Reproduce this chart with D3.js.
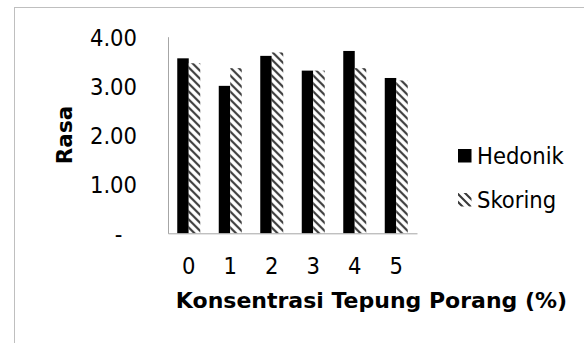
<!DOCTYPE html>
<html>
<head>
<meta charset="utf-8">
<script src="https://cdn.jsdelivr.net/npm/d3@7"></script>
<style>
  html, body { margin: 0; padding: 0; background: #fff; }
  svg { display: block; }
  text { font-family: "DejaVu Sans Condensed", "DejaVu Sans", sans-serif; font-stretch: condensed; fill: #000; }
  text.title { font-family: "DejaVu Sans", sans-serif; font-stretch: normal; font-weight: bold; }
</style>
</head>
<body>
<svg id="chart" width="584" height="343"></svg>
<script>
// Rasa scores per concentration of porang flour
const categories = ["0", "1", "2", "3", "4", "5"];
const hedonik = [3.56, 3.00, 3.61, 3.31, 3.71, 3.16];
const skoring = [3.46, 3.36, 3.68, 3.31, 3.36, 3.11];
const seriesNames = ["Hedonik", "Skoring"];
const yTicks = [0, 1, 2, 3, 4];

const svg = d3.select("#chart");

// outer chart frame
svg.append("rect")
  .attr("x", 14.5).attr("y", 7.5)
  .attr("width", 600).attr("height", 400)
  .attr("fill", "none").attr("stroke", "#bfbfbf").attr("stroke-width", 1);

// diagonal hatch used for the Skoring series
const defs = svg.append("defs");
const pat = defs.append("pattern")
  .attr("id", "hatch")
  .attr("patternUnits", "userSpaceOnUse")
  .attr("width", 8).attr("height", 8);
pat.append("rect").attr("width", 8).attr("height", 8).attr("fill", "#fff");
pat.append("path")
  .attr("d", "M-2,-2 L10,10 M-2,6 L2,10 M6,-2 L10,2")
  .attr("stroke", "#3a3a3a").attr("stroke-width", 2.1);

const plot = { left: 168, right: 417, top: 36.7, bottom: 233.3 };
const fontSize = 23.5;

const x = d3.scaleBand()
  .domain(categories)
  .range([plot.left, plot.right])
  .paddingInner(0.446)
  .paddingOuter(0.223);

const xSub = d3.scaleBand()
  .domain(seriesNames)
  .range([0, x.bandwidth()]);

const y = d3.scaleLinear()
  .domain([0, 4])
  .range([plot.bottom, plot.top]);

const data = categories.map((c, i) => ({ cat: c, Hedonik: hedonik[i], Skoring: skoring[i] }));
const fills = { Hedonik: "#000", Skoring: "url(#hatch)" };

// bars
const groups = svg.append("g").selectAll("g")
  .data(data).join("g")
  .attr("transform", d => `translate(${x(d.cat)},0)`);

groups.selectAll("rect")
  .data(d => seriesNames.map(s => ({ s, v: d[s] })))
  .join("rect")
  .attr("x", d => xSub(d.s))
  .attr("width", xSub.bandwidth())
  .attr("y", d => y(d.v))
  .attr("height", d => y(0) - y(d.v))
  .attr("fill", d => fills[d.s]);

// axes
const yAxis = svg.append("g")
  .attr("transform", `translate(${plot.left},0)`)
  .call(d3.axisLeft(y).tickValues(yTicks).tickSize(0).tickPadding(31)
    .tickFormat(d => d === 0 ? "-" : d3.format(".2f")(d)));
yAxis.select(".domain").attr("stroke", "#a6a6a6");
yAxis.selectAll("text")
  .attr("font-size", fontSize).attr("font-family", null)
  .attr("dy", "0.36em");
yAxis.selectAll(".tick")
  .filter(d => d === 0)
  .select("text")
  .attr("text-anchor", "middle")
  .attr("x", 118.5 - plot.left);

const xAxis = svg.append("g")
  .attr("transform", `translate(0,${plot.bottom})`)
  .call(d3.axisBottom(x).tickSize(0).tickPadding(24));
xAxis.select(".domain").attr("stroke", "#a6a6a6");
xAxis.selectAll("text").attr("font-size", fontSize).attr("font-family", null);

// axis titles
svg.append("text")
  .attr("class", "title")
  .attr("x", 371.5).attr("y", 308)
  .attr("text-anchor", "middle")
  .attr("font-size", 22)
  .text("Konsentrasi Tepung Porang (%)");

svg.append("text")
  .attr("class", "title")
  .attr("transform", "translate(72,135) rotate(-90)")
  .attr("text-anchor", "middle")
  .attr("font-size", 21.5)
  .text("Rasa");

// legend
const legend = svg.append("g");
const legendY = [156, 200];
seriesNames.forEach((s, i) => {
  legend.append("rect")
    .attr("x", 458).attr("y", legendY[i] - 7)
    .attr("width", 13.5).attr("height", 13.5)
    .attr("fill", fills[s]);
  legend.append("text")
    .attr("x", 477).attr("y", legendY[i] + 8)
    .attr("font-size", fontSize)
    .text(s);
});
</script>
</body>
</html>
